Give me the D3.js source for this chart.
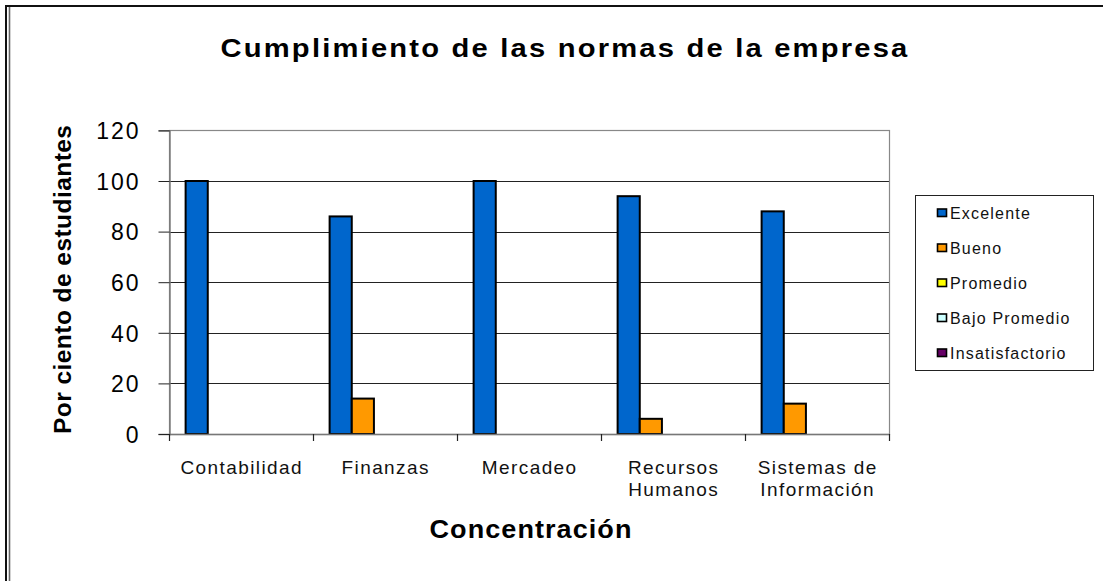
<!DOCTYPE html>
<html>
<head>
<meta charset="utf-8">
<script src="https://cdn.jsdelivr.net/npm/d3@7"></script>
<style>
  html, body { margin: 0; padding: 0; background: #fff; }
  svg { display: block; font-family: "Liberation Sans", Arial, sans-serif; }
</style>
</head>
<body>
<svg id="chart" width="1103" height="581"></svg>
<script>
// ---- data ----
const categories = ["Contabilidad", "Finanzas", "Mercadeo", "Recursos Humanos", "Sistemas de Información"];
const categoryLines = [["Contabilidad"], ["Finanzas"], ["Mercadeo"], ["Recursos", "Humanos"], ["Sistemas de", "Información"]];
const seriesNames = ["Excelente", "Bueno", "Promedio", "Bajo Promedio", "Insatisfactorio"];
const excelente = [100, 86, 100, 94, 88];
const bueno = [0, 14, 0, 6, 12];
const promedio = [0, 0, 0, 0, 0];
const bajoPromedio = [0, 0, 0, 0, 0];
const insatisfactorio = [0, 0, 0, 0, 0];
const yTicks = [0, 20, 40, 60, 80, 100, 120];
const seriesColors = ["#0066CC", "#FF9900", "#FFFF00", "#CCFFFF", "#660066"];
const titleText = "Cumplimiento de las normas de la empresa";
const yTitle = "Por ciento de estudiantes";
const xTitle = "Concentración";

const seriesValues = [excelente, bueno, promedio, bajoPromedio, insatisfactorio];

// ---- layout ----
const svg = d3.select("#chart");
const plot = { left: 169, right: 889, top: 130.4, bottom: 434 };

const x = d3.scaleBand().domain(categories).range([plot.left, plot.right]).padding(0);
const bw = x.bandwidth();
const gapSide = bw * 0.75 / 6.5; // Excel gap width 150%
const xs = d3.scaleBand().domain(seriesNames).range([gapSide, bw - gapSide]).padding(0);
const y = d3.scaleLinear().domain([0, 120]).range([plot.bottom, plot.top]);

// outer border (left double line + top line)
svg.append("line").attr("x1", 5).attr("x2", 1103).attr("y1", 6).attr("y2", 6)
  .attr("stroke", "#111").attr("stroke-width", 2);
svg.append("line").attr("x1", 6).attr("x2", 6).attr("y1", 5).attr("y2", 581)
  .attr("stroke", "#111").attr("stroke-width", 2);
svg.append("line").attr("x1", 9.5).attr("x2", 9.5).attr("y1", 7).attr("y2", 581)
  .attr("stroke", "#666").attr("stroke-width", 1.6);

// title
svg.append("text").attr("x", 565).attr("y", 56.5).attr("text-anchor", "middle")
  .attr("font-size", 26.5).attr("font-weight", "bold").attr("fill", "#000")
  .attr("letter-spacing", 2)
  .attr("textLength", 689).attr("lengthAdjust", "spacingAndGlyphs")
  .text(titleText);

// gridlines
svg.append("g").selectAll("line").data(yTicks.filter(t => t > 0 && t < 120)).join("line")
  .attr("x1", plot.left).attr("x2", plot.right)
  .attr("y1", d => Math.round(y(d)) + 0.5).attr("y2", d => Math.round(y(d)) + 0.5)
  .attr("stroke", "#222").attr("stroke-width", 1);

// plot border (top/right gray)
svg.append("rect").attr("x", plot.left + 0.5).attr("y", Math.round(plot.top) + 0.5)
  .attr("width", plot.right - plot.left).attr("height", Math.round(plot.bottom) - Math.round(plot.top))
  .attr("fill", "none").attr("stroke", "#888").attr("stroke-width", 1.2);

// y axis
const yAxis = d3.axisLeft(y).tickValues(yTicks).tickSize(11).tickPadding(0).tickFormat(d3.format("d"));
const gy = svg.append("g").attr("transform", `translate(${plot.left + 0.5},0)`).call(yAxis);
gy.select(".domain").attr("stroke", "#777").attr("stroke-width", 1.4);
gy.selectAll(".tick line").attr("stroke", "#222");
gy.selectAll(".tick text").attr("x", -29).attr("dy", "0.36em")
  .attr("font-size", 23).attr("letter-spacing", 2).attr("fill", "#000")
  .attr("font-family", "Liberation Sans, Arial, sans-serif");

// bars
const groups = svg.append("g").selectAll("g").data(categories).join("g")
  .attr("transform", d => `translate(${x(d)},0)`);
groups.selectAll("rect")
  .data((c, i) => seriesNames.map((s, j) => ({ s, v: seriesValues[j][i], color: seriesColors[j] })))
  .join("rect")
  .filter(d => d.v > 0)
  .attr("x", d => xs(d.s)).attr("width", xs.bandwidth())
  .attr("y", d => y(d.v)).attr("height", d => y(0) - y(d.v))
  .attr("fill", d => d.color).attr("stroke", "#000").attr("stroke-width", 2);

// x axis line + ticks (between categories)
svg.append("line").attr("x1", plot.left).attr("x2", plot.right)
  .attr("y1", Math.round(plot.bottom) + 0.5).attr("y2", Math.round(plot.bottom) + 0.5)
  .attr("stroke", "#777").attr("stroke-width", 1.4);
const tickPos = categories.map(c => x(c)).concat([x.range()[1]]);
svg.append("g").selectAll("line").data(tickPos).join("line")
  .attr("x1", d => Math.round(d) + 0.5).attr("x2", d => Math.round(d) + 0.5)
  .attr("y1", plot.bottom).attr("y2", plot.bottom + 7)
  .attr("stroke", "#222").attr("stroke-width", 1.2);

// category labels
const catLS = 1.4;
svg.append("g").selectAll("text").data(categories).join("text")
  .attr("x", d => x(d) + bw / 2 + catLS / 2)
  .attr("y", 473.5)
  .attr("text-anchor", "middle").attr("font-size", 19).attr("letter-spacing", catLS)
  .attr("fill", "#111")
  .each(function (d, i) {
    const t = d3.select(this);
    categoryLines[i].forEach((line, k) => {
      t.append("tspan").attr("x", x(d) + bw / 2 + catLS / 2).attr("dy", k === 0 ? 0 : 22.5).text(line);
    });
  });

// axis titles
svg.append("text").attr("x", 531).attr("y", 538).attr("text-anchor", "middle")
  .attr("font-size", 25.5).attr("font-weight", "bold").attr("fill", "#000")
  .attr("letter-spacing", 1)
  .attr("textLength", 203).attr("lengthAdjust", "spacingAndGlyphs").text(xTitle);
svg.append("text").attr("transform", "translate(71,279.5) rotate(-90)")
  .attr("text-anchor", "middle").attr("font-size", 24.5).attr("font-weight", "bold").attr("fill", "#000")
  .attr("textLength", 309).attr("lengthAdjust", "spacing").text(yTitle);

// legend
const legend = svg.append("g");
legend.append("rect").attr("x", 915.5).attr("y", 195.5).attr("width", 178).attr("height", 175)
  .attr("fill", "#fff").attr("stroke", "#222").attr("stroke-width", 1);
const legY = d3.scalePoint().domain(seriesNames).range([218.5, 358.5]);
const items = legend.selectAll("g.item").data(seriesNames).join("g").attr("class", "item");
items.append("rect")
  .attr("x", 937.5).attr("y", d => legY(d) - 9.5).attr("width", 9).attr("height", 7.5)
  .attr("fill", (d, i) => seriesColors[i]).attr("stroke", "#000").attr("stroke-width", 1.6);
items.append("text")
  .attr("x", 950).attr("y", d => legY(d))
  .attr("font-size", 16).attr("letter-spacing", 1.2).attr("fill", "#111")
  .text(d => d);
</script>
</body>
</html>
